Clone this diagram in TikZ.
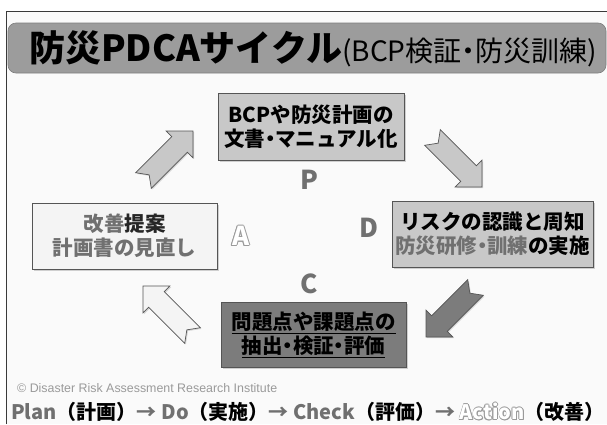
\documentclass[tikz,border=0pt]{standalone}
\usepackage{fontspec}
\setmainfont{Noto Sans CJK JP}
\newfontfamily\arialf{Liberation Sans}
\usetikzlibrary{shadows}
\definecolor{txtgray}{HTML}{707070}
\definecolor{boxlight}{HTML}{C8C8C8}
\definecolor{boxdark}{HTML}{7C7C7C}
\definecolor{boxpale}{HTML}{F4F4F4}
\definecolor{edgecol}{HTML}{555555}
\definecolor{titlebar}{HTML}{9C9C9C}
\definecolor{framecol}{HTML}{3A3A3A}
\definecolor{copycol}{HTML}{9A9A9A}
\definecolor{hollowedge}{HTML}{9A9A9A}
\newcommand\hollowtext[1]{\leavevmode
  \rlap{\kern0.7pt\textcolor{hollowedge}{#1}}%
  \rlap{\kern-0.7pt\textcolor{hollowedge}{#1}}%
  \rlap{\raisebox{0.7pt}{\textcolor{hollowedge}{#1}}}%
  \rlap{\raisebox{-0.7pt}{\textcolor{hollowedge}{#1}}}%
  \rlap{\kern0.5pt\raisebox{0.5pt}{\textcolor{hollowedge}{#1}}}%
  \rlap{\kern-0.5pt\raisebox{0.5pt}{\textcolor{hollowedge}{#1}}}%
  \rlap{\kern0.5pt\raisebox{-0.5pt}{\textcolor{hollowedge}{#1}}}%
  \rlap{\kern-0.5pt\raisebox{-0.5pt}{\textcolor{hollowedge}{#1}}}%
  \textcolor{white}{#1}}
\newcommand\nakaguro{\kern-0.25em・\kern-0.25em}
\newcommand\blockarrow[3]{%
  \draw[arrowline, fill=#3, shift={#1}, rotate=#2]
    (0,-11) -- (51,-11) -- (51,-19) -- (70,0) -- (51,19) -- (51,11) -- (0,11) -- (8,0) -- cycle;}
\begin{document}
\begin{tikzpicture}[x=1pt,y=-1pt,
  cbox/.style={draw=edgecol, line width=0.8pt, align=center, inner sep=0pt,
    font=\bfseries\fontsize{20.5}{24}\selectfont,
    drop shadow={opacity=0.35, shadow xshift=1.5pt, shadow yshift=-1.5pt}},
  phase/.style={font=\bfseries\fontsize{26}{26}\selectfont, text=txtgray, inner sep=0pt},
  arrowline/.style={draw=edgecol, line width=0.7pt, line join=miter,
    drop shadow={opacity=0.3, shadow xshift=1.2pt, shadow yshift=-1.2pt}}]
\useasboundingbox (0,0) rectangle (607,424);
\fill[white] (0,0) rectangle (607,424);
\fill[white!98!black] (6,11) rectangle (607,424);
\draw[framecol, line width=1pt] (6,424) -- (6,11) -- (607,11);
% title bar
\draw[draw=titlebar!80!black, fill=titlebar, rounded corners=8pt, line width=0.6pt] (8,23) rectangle (606,73);
\node[anchor=west, inner sep=0pt] (title) at (29,49)
  {\fontsize{36}{36}\selectfont\bfseries 防災PDCAサイクル\mdseries\fontsize{28}{28}\selectfont(BCP検証\nakaguro 防災訓練)};
% boxes
\node[cbox, fill=boxlight, minimum width=186pt, minimum height=67pt] (plan) at (311,126.5)
  {BCPや防災計画の\\文書\nakaguro マニュアル化};
\node[cbox, fill=boxpale, minimum width=185pt, minimum height=66pt, text=txtgray] (act) at (124.5,236)
  {改善\textcolor{black!85}{提案}\\計画書の見直し};
\node[cbox, fill=boxlight, minimum width=201pt, minimum height=66pt] (do) at (492.5,234)
  {リスクの認識と周知\\\textcolor{txtgray}{防災研修\nakaguro 訓練}の実施};
\node[cbox, fill=boxdark, minimum width=185pt, minimum height=65pt] (check) at (313.5,334.5)
  {\underline{問題点や課題点の}\\\underline{抽出\nakaguro 検証\nakaguro 評価}};
% phase letters
\node[phase] (plabel) at (309,180) {P};
\node[phase] (dlabel) at (369,228) {D};
\node[phase] (clabel) at (309,284) {C};
\node[phase] (alabel) at (241,236) {\hollowtext{A}};
% block arrows
\blockarrow{(143.5,180.5)}{45}{boxlight}
\blockarrow{(432.5,137.5)}{-45}{boxlight}
\blockarrow{(475.5,287.5)}{-135}{boxdark}
\blockarrow{(192.5,335.5)}{135}{boxpale}
% footer
\node[anchor=west, inner sep=0pt, text=copycol, font=\arialf\fontsize{12.4}{12.4}\selectfont] (copy) at (17,388)
  {© Disaster Risk Assessment Research Institute};
\node[anchor=west, inner sep=0pt] (flow) at (11,412)
  {\bfseries\fontsize{20}{20}\selectfont\textcolor{txtgray}{Plan}（計画）\textcolor{txtgray}{→} \textcolor{txtgray}{Do}（実施）\textcolor{txtgray}{→} \textcolor{txtgray}{Check}（評価）\textcolor{txtgray}{→} \hollowtext{Action}（改善）};
\end{tikzpicture}
\end{document}
